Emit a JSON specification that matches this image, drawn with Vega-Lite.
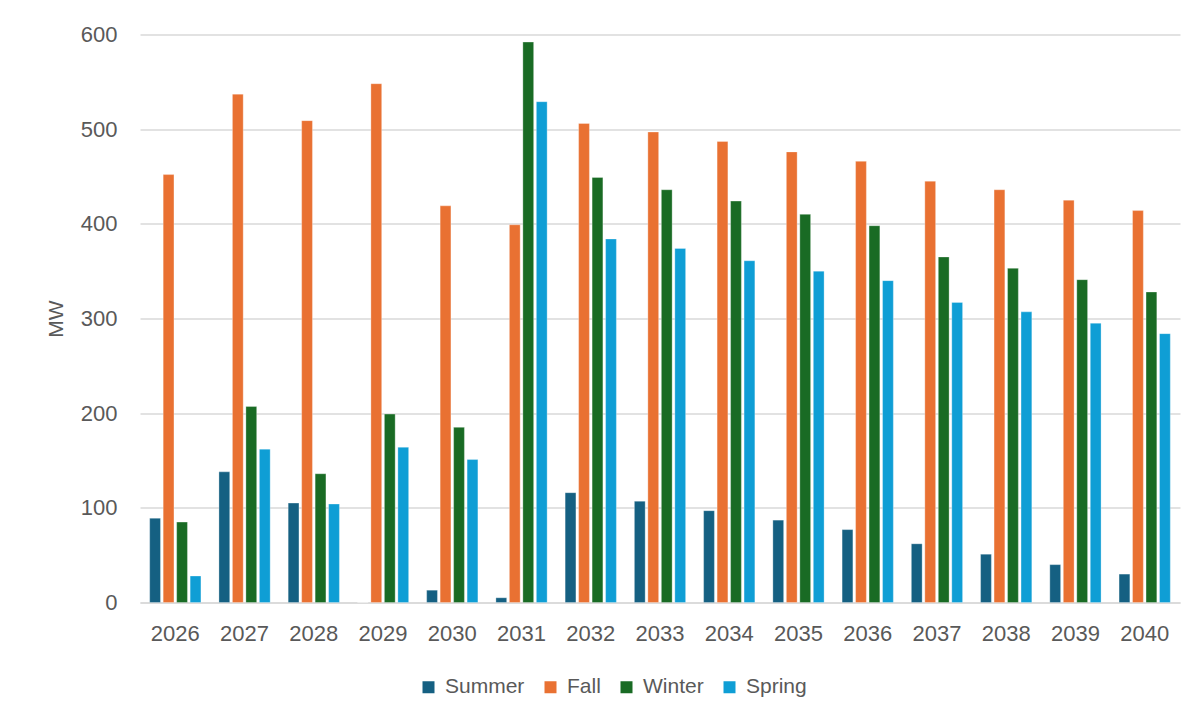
{
  "$schema": "https://vega.github.io/schema/vega-lite/v6.json",
  "width": 1040,
  "height": 568,
  "autosize": {"type": "none"},
  "padding": {"left": 140, "top": 34.5, "right": 21, "bottom": 120.5},
  "background": "white",
  "config": {
    "font": "Liberation Sans",
    "view": {"stroke": null}
  },
  "data": {
    "values": [
      {"year": "2026", "season": "Summer", "mw": 89},
      {"year": "2026", "season": "Fall", "mw": 452},
      {"year": "2026", "season": "Winter", "mw": 85},
      {"year": "2026", "season": "Spring", "mw": 28},
      {"year": "2027", "season": "Summer", "mw": 138},
      {"year": "2027", "season": "Fall", "mw": 537},
      {"year": "2027", "season": "Winter", "mw": 207},
      {"year": "2027", "season": "Spring", "mw": 162},
      {"year": "2028", "season": "Summer", "mw": 105},
      {"year": "2028", "season": "Fall", "mw": 509},
      {"year": "2028", "season": "Winter", "mw": 136},
      {"year": "2028", "season": "Spring", "mw": 104},
      {"year": "2029", "season": "Summer", "mw": 0},
      {"year": "2029", "season": "Fall", "mw": 548},
      {"year": "2029", "season": "Winter", "mw": 199},
      {"year": "2029", "season": "Spring", "mw": 164},
      {"year": "2030", "season": "Summer", "mw": 13},
      {"year": "2030", "season": "Fall", "mw": 419},
      {"year": "2030", "season": "Winter", "mw": 185},
      {"year": "2030", "season": "Spring", "mw": 151},
      {"year": "2031", "season": "Summer", "mw": 5},
      {"year": "2031", "season": "Fall", "mw": 399},
      {"year": "2031", "season": "Winter", "mw": 592},
      {"year": "2031", "season": "Spring", "mw": 529},
      {"year": "2032", "season": "Summer", "mw": 116},
      {"year": "2032", "season": "Fall", "mw": 506},
      {"year": "2032", "season": "Winter", "mw": 449},
      {"year": "2032", "season": "Spring", "mw": 384},
      {"year": "2033", "season": "Summer", "mw": 107},
      {"year": "2033", "season": "Fall", "mw": 497},
      {"year": "2033", "season": "Winter", "mw": 436},
      {"year": "2033", "season": "Spring", "mw": 374},
      {"year": "2034", "season": "Summer", "mw": 97},
      {"year": "2034", "season": "Fall", "mw": 487},
      {"year": "2034", "season": "Winter", "mw": 424},
      {"year": "2034", "season": "Spring", "mw": 361},
      {"year": "2035", "season": "Summer", "mw": 87},
      {"year": "2035", "season": "Fall", "mw": 476},
      {"year": "2035", "season": "Winter", "mw": 410},
      {"year": "2035", "season": "Spring", "mw": 350},
      {"year": "2036", "season": "Summer", "mw": 77},
      {"year": "2036", "season": "Fall", "mw": 466},
      {"year": "2036", "season": "Winter", "mw": 398},
      {"year": "2036", "season": "Spring", "mw": 340},
      {"year": "2037", "season": "Summer", "mw": 62},
      {"year": "2037", "season": "Fall", "mw": 445},
      {"year": "2037", "season": "Winter", "mw": 365},
      {"year": "2037", "season": "Spring", "mw": 317},
      {"year": "2038", "season": "Summer", "mw": 51},
      {"year": "2038", "season": "Fall", "mw": 436},
      {"year": "2038", "season": "Winter", "mw": 353},
      {"year": "2038", "season": "Spring", "mw": 307},
      {"year": "2039", "season": "Summer", "mw": 40},
      {"year": "2039", "season": "Fall", "mw": 425},
      {"year": "2039", "season": "Winter", "mw": 341},
      {"year": "2039", "season": "Spring", "mw": 295},
      {"year": "2040", "season": "Summer", "mw": 30},
      {"year": "2040", "season": "Fall", "mw": 414},
      {"year": "2040", "season": "Winter", "mw": 328},
      {"year": "2040", "season": "Spring", "mw": 284}
    ]
  },
  "mark": {"type": "bar", "stroke": "white", "strokeWidth": 0.5, "strokeOpacity": 0.6},
  "encoding": {
    "x": {
      "field": "year",
      "type": "nominal",
      "scale": {"paddingInner": 0.26, "paddingOuter": 0.14},
      "axis": {
        "title": null,
        "labelAngle": 0,
        "labelFontSize": 22,
        "labelColor": "#595959",
        "labelPadding": 21,
        "ticks": false,
        "domainColor": "#d9d9d9",
        "domainWidth": 1.5
      }
    },
    "xOffset": {
      "field": "season",
      "type": "nominal",
      "sort": ["Summer", "Fall", "Winter", "Spring"],
      "scale": {"paddingInner": 0.2, "paddingOuter": 0}
    },
    "y": {
      "field": "mw",
      "type": "quantitative",
      "scale": {"domain": [0, 600], "nice": false},
      "axis": {
        "title": "MW",
        "titleFontSize": 21,
        "titleFontWeight": "normal",
        "titleColor": "#595959",
        "titleX": -84,
        "titleBaseline": "middle",
        "values": [0, 100, 200, 300, 400, 500, 600],
        "labelFontSize": 22,
        "labelColor": "#595959",
        "labelPadding": 23,
        "ticks": false,
        "domain": false,
        "gridColor": "#d9d9d9",
        "gridWidth": 1.5
      }
    },
    "color": {
      "field": "season",
      "type": "nominal",
      "sort": ["Summer", "Fall", "Winter", "Spring"],
      "scale": {
        "domain": ["Summer", "Fall", "Winter", "Spring"],
        "range": ["#156082", "#E97132", "#196B24", "#0F9ED5"]
      },
      "legend": {
        "title": null,
        "orient": "none",
        "direction": "horizontal",
        "legendX": 278,
        "legendY": 642,
        "symbolType": "square",
        "symbolSize": 144,
        "symbolStrokeWidth": 0,
        "labelFontSize": 21,
        "labelColor": "#595959",
        "labelOffset": 6,
        "columnPadding": 15
      }
    }
  }
}
